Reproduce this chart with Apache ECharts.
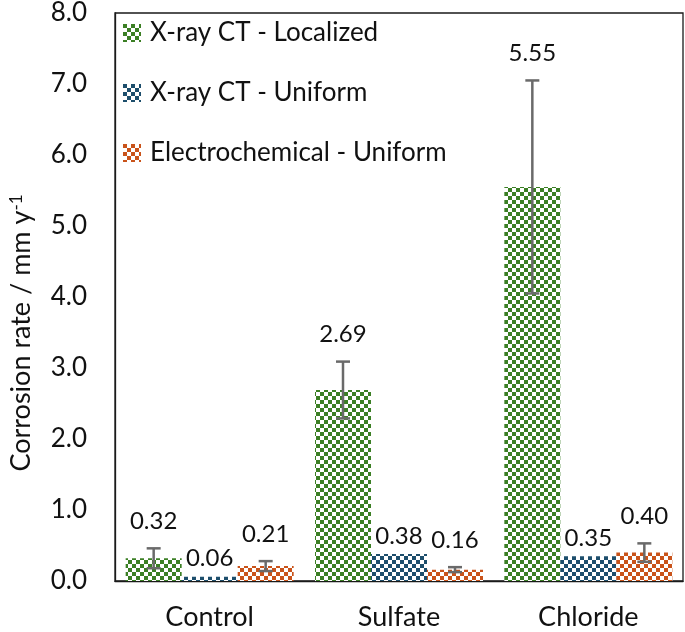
<!DOCTYPE html>
<html>
<head>
<meta charset="utf-8">
<script src="https://cdn.jsdelivr.net/npm/echarts@6/dist/echarts.min.js"></script>
<style>
  html, body { margin: 0; padding: 0; background: #fff; }
  #chart { width: 685px; height: 632px; }
</style>
</head>
<body>
<div id="chart"></div>
<script>
// categories and values
const categories = ['Control', 'Sulfate', 'Chloride'];
const seriesNames = ['X-ray CT - Localized', 'X-ray CT - Uniform', 'Electrochemical - Uniform'];
const localized = [0.32, 2.69, 5.55];
const uniform = [0.06, 0.38, 0.35];
const electro = [0.21, 0.16, 0.40];
// +/- error bar half heights
const localizedErr = [0.14, 0.40, 1.50];
const uniformErr = [0, 0, 0];
const electroErr = [0.07, 0.035, 0.13];
// y axis ticks
const yMin = 0, yMax = 8, yStep = 1;

const FONT = 'Lato';
const colors = ['#3b7f24', '#1d4e6c', '#c9531a'];
const BAR_W = 56;

function checker(color) {
  const c = document.createElement('canvas');
  c.width = 8; c.height = 8;
  const ctx = c.getContext('2d');
  ctx.fillStyle = '#ffffff';
  ctx.fillRect(0, 0, 8, 8);
  ctx.fillStyle = color;
  ctx.fillRect(0, 0, 4, 4);
  ctx.fillRect(4, 4, 4, 4);
  return { image: c, repeat: 'repeat' };
}

const values = [localized, uniform, electro];
const errors = [localizedErr, uniformErr, electroErr];

const barSeries = values.map(function (vals, s) {
  return {
    name: seriesNames[s],
    type: 'bar',
    barWidth: BAR_W,
    barGap: '0%',
    itemStyle: { color: checker(colors[s]) },
    data: vals
  };
});

const errSeries = values.map(function (vals, s) {
  return {
    name: 'err' + s,
    type: 'custom',
    z: 5,
    clip: false,
    encode: { x: 0, y: 1 },
    data: vals.map(function (v, i) { return [i, v, errors[s][i]]; }),
    renderItem: function (params, api) {
      const i = api.value(0), v = api.value(1), e = api.value(2);
      const base = api.coord([i, v]);
      const x = base[0] + (s - 1) * BAR_W;
      const children = [];
      let labelY = base[1] - 18;
      if (e > 0) {
        const top = api.coord([i, v + e])[1];
        const bot = api.coord([i, v - e])[1];
        const st = { stroke: '#6a6a6a', lineWidth: 2.5 };
        children.push({ type: 'line', shape: { x1: x, y1: top, x2: x, y2: bot }, style: st });
        children.push({ type: 'line', shape: { x1: x - 7, y1: top, x2: x + 7, y2: top }, style: st });
        children.push({ type: 'line', shape: { x1: x - 7, y1: bot, x2: x + 7, y2: bot }, style: st });
        labelY = top - 27;
      }
      children.push({
        type: 'text',
        style: {
          text: v.toFixed(2), x: x, y: labelY,
          align: 'center', verticalAlign: 'middle',
          font: '24px ' + FONT, fill: '#111'
        }
      });
      return { type: 'group', children: children };
    }
  };
});

const chart = echarts.init(document.getElementById('chart'));
chart.setOption({
  animation: false,
  grid: {
    left: 111, right: 2, top: 11, bottom: 51,
    show: true, borderColor: '#1a1a1a', borderWidth: 1.3
  },
  legend: {
    data: seriesNames,
    orient: 'vertical',
    left: 123, top: 18,
    padding: 0,
    icon: 'rect',
    itemWidth: 18, itemHeight: 18,
    itemGap: 30,
    textStyle: { fontFamily: FONT, fontSize: 26, color: '#111', lineHeight: 30, padding: [0, 0, 0, 4] }
  },
  xAxis: {
    type: 'category',
    data: categories,
    axisLine: { show: true, lineStyle: { color: '#1a1a1a', width: 1.3 } },
    axisTick: { show: false },
    axisLabel: { margin: 23, fontFamily: FONT, fontSize: 27, color: '#111' }
  },
  yAxis: {
    type: 'value',
    min: yMin, max: yMax, interval: yStep,
    name: '{t|Corrosion rate / mm y}{s|-1}',
    nameLocation: 'middle',
    nameGap: 80,
    nameRotate: 90,
    nameTextStyle: {
      padding: [0, 72, 0, 0],
      rich: {
        t: { fontFamily: FONT, fontSize: 27, color: '#111' },
        s: { fontFamily: FONT, fontSize: 17, color: '#111', verticalAlign: 'top' }
      }
    },
    axisLine: { show: true, lineStyle: { color: '#1a1a1a', width: 1.3 } },
    axisTick: { show: false },
    splitLine: { show: false },
    axisLabel: {
      margin: 28, fontFamily: FONT, fontSize: 26, color: '#111',
      formatter: function (v) { return v.toFixed(1); }
    }
  },
  series: barSeries.concat(errSeries)
});
</script>
</body>
</html>
